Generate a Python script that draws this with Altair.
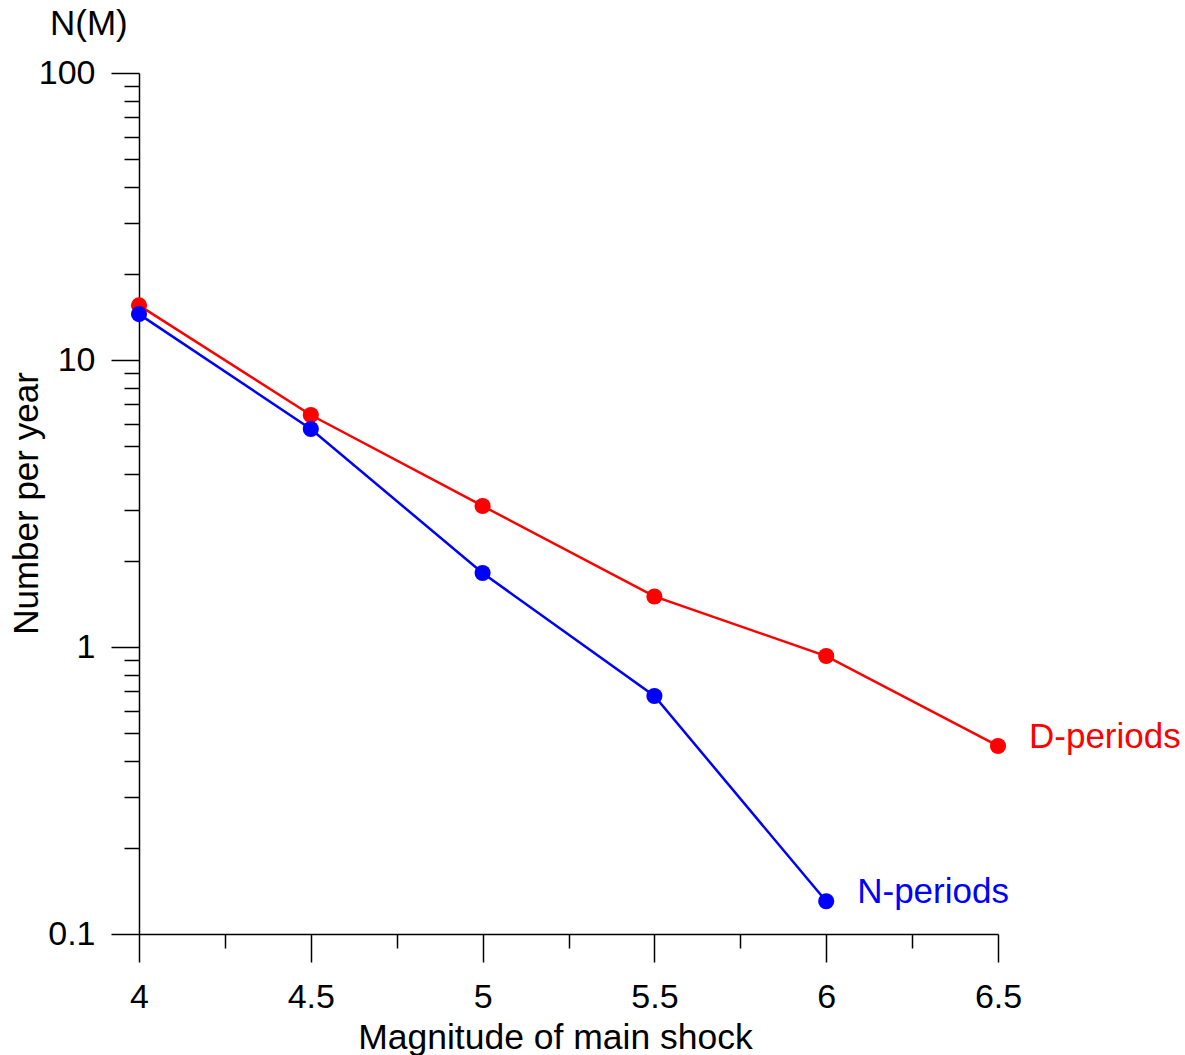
import altair as alt
import pandas as pd

magnitudes_d = [4.0, 4.5, 5.0, 5.5, 6.0, 6.5]
values_d = [15.5, 6.43, 3.10, 1.50, 0.93, 0.452]
magnitudes_n = [4.0, 4.5, 5.0, 5.5, 6.0]
values_n = [14.45, 5.75, 1.81, 0.675, 0.130]
series_names = ["D-periods", "N-periods"]
series_colors = ["#ff0000", "#0000ff"]

x_ticks = [4.0, 4.25, 4.5, 4.75, 5.0, 5.25, 5.5, 5.75, 6.0, 6.25, 6.5]
y_ticks = [0.1, 0.2, 0.3, 0.4, 0.5, 0.6, 0.7, 0.8, 0.9,
           1, 2, 3, 4, 5, 6, 7, 8, 9,
           10, 20, 30, 40, 50, 60, 70, 80, 90, 100]

rows = []
for m, v in zip(magnitudes_d, values_d):
    rows.append({"M": m, "N": v, "series": series_names[0]})
for m, v in zip(magnitudes_n, values_n):
    rows.append({"M": m, "N": v, "series": series_names[1]})
df = pd.DataFrame(rows)
last = pd.DataFrame([
    {"M": magnitudes_d[-1], "N": values_d[-1], "series": series_names[0]},
    {"M": magnitudes_n[-1], "N": values_n[-1], "series": series_names[1]},
])

FONT = "Liberation Sans"

x_major = "abs(datum.value*2 - round(datum.value*2)) < 1e-6"
y_major = "abs(log(datum.value)/LN10 - round(log(datum.value)/LN10)) < 1e-6"

x = alt.X(
    "M:Q",
    scale=alt.Scale(domain=[4, 6.5], nice=False, zero=False),
    axis=alt.Axis(
        values=x_ticks,
        title="Magnitude of main shock",
        titleFont=FONT, titleFontSize=35.5, titleFontWeight="normal", titleColor="black",
        titleX=416, titleY=114, titleAlign="center", titleBaseline="alphabetic",
        labelFont=FONT, labelFontSize=34, labelColor="black", labelPadding=18,
        labelExpr=f"({x_major}) ? ('' + datum.value) : ''",
        tickSize={"condition": {"test": x_major, "value": 28}, "value": 14},
        tickColor="black", tickWidth=1.5, domainColor="black", domainWidth=1.5,
        grid=False, labelFlush=False, labelOverlap=False,
    ),
)
y = alt.Y(
    "N:Q",
    scale=alt.Scale(type="log", domain=[0.1, 100], nice=False),
    axis=alt.Axis(
        values=y_ticks,
        title="Number per year",
        titleFont=FONT, titleFontSize=35, titleFontWeight="normal", titleColor="black",
        titleX=-102, titleY=430, titleAlign="center", titleBaseline="alphabetic", titleAngle=-90,
        labelFont=FONT, labelFontSize=34, labelColor="black", labelPadding=16,
        labelExpr=f"({y_major}) ? ('' + datum.value) : ''",
        tickSize={"condition": {"test": y_major, "value": 28}, "value": 15},
        tickColor="black", tickWidth=1.5, domainColor="black", domainWidth=1.5,
        grid=False, labelFlush=False, labelOverlap=False,
    ),
)
color = alt.Color("series:N", scale=alt.Scale(domain=series_names, range=series_colors), legend=None)

base = alt.Chart(df)
lines = base.mark_line(strokeWidth=2.5).encode(x=x, y=y, color=color, detail="series:N")
points = base.mark_circle(size=260, opacity=1).encode(x=x, y=y, color=color)
labels = alt.Chart(last).mark_text(
    align="left", baseline="middle", dx=31, dy=-9, font=FONT, fontSize=35
).encode(x=x, y=y, text="series:N", color=color)

chart = alt.layer(lines, points, labels).properties(
    width=859, height=861,
    background="white",
    title=alt.TitleParams("N(M)", anchor="start", frame="group", dx=-89, dy=-10, font=FONT,
                          fontSize=35, fontWeight="normal", color="black"),
    autosize=alt.AutoSizeParams(type="none"),
    padding={"left": 139, "top": 73, "right": 187, "bottom": 121},
).configure_view(stroke=None, strokeWidth=0)

chart.save("out.html", embed_options={"renderer": "svg", "actions": False})
